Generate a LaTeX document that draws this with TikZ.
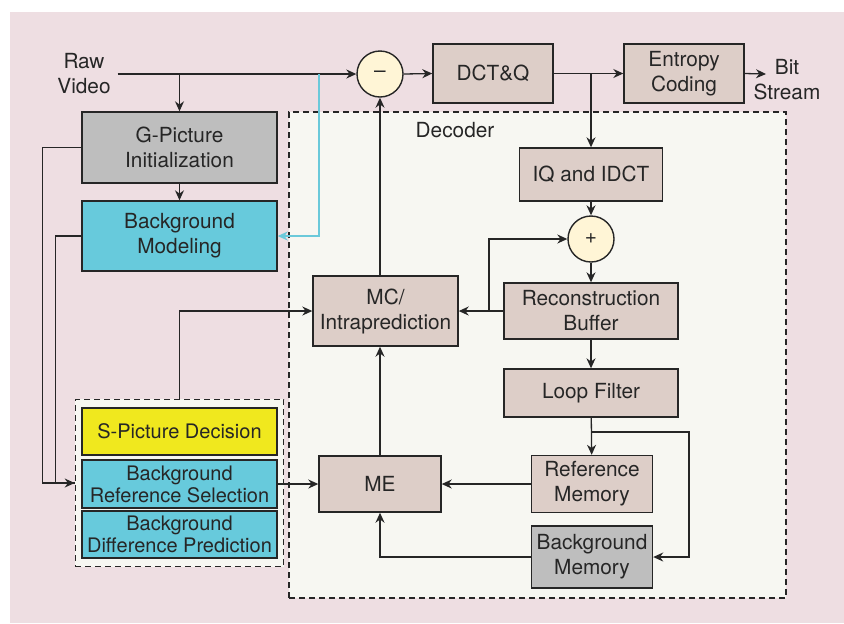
\documentclass[tikz,border=0pt]{standalone}
\usepackage{fontspec}
\setmainfont{TeX Gyre Heros}
\usetikzlibrary{arrows.meta, fit, backgrounds}

\definecolor{pinkbg}{HTML}{EEDEE2}
\definecolor{decfill}{HTML}{F7F7F2}
\definecolor{boxbrown}{HTML}{DDCEC8}
\definecolor{boxgray}{HTML}{BEBEBE}
\definecolor{boxcyan}{HTML}{67CADC}
\definecolor{boxyellow}{HTML}{F0E81E}
\definecolor{sumfill}{HTML}{FFF5D6}
\definecolor{linecol}{HTML}{262626}
\definecolor{cyanline}{HTML}{6BC9DA}

\begin{document}
\begin{tikzpicture}[x=0.5pt, y=-0.5pt,
  every node/.style={font=\fontsize{10.4}{12.5}\selectfont, align=center, text=linecol},
  box/.style={draw=linecol, line width=0.7pt, fill=boxbrown, inner sep=0pt},
  smallbox/.style={box, font=\fontsize{10}{11}\selectfont},
  sumnode/.style={circle, draw=linecol, line width=0.7pt, fill=sumfill, minimum size=23pt, inner sep=0pt},
  flow/.style={line width=0.65pt, draw=linecol, -{Stealth[length=5pt,width=4.5pt]}},
  plain/.style={line width=0.65pt, draw=linecol},
  dashbox/.style={draw=linecol, line width=0.6pt, dash pattern=on 3pt off 2pt, fill=decfill},
]

% Margins
\useasboundingbox (0,0) rectangle (844,623);

% Encoder top row
\node (raw) at (84,74) {Raw\\Video};
\node[sumnode] (minus) at (380,74) {--};
\node[box, minimum width=60pt, minimum height=29.5pt] (dctq) at (493,73.5) {DCT\&Q};
\node[box, minimum width=60pt, minimum height=29.5pt] (ent) at (684,73.5) {Entropy\\Coding};
\node (bits) at (787,80) {Bit\\Stream};
\coordinate (bitsin) at (766,74);

% Left column
\node[box, fill=boxgray, minimum width=97.5pt, minimum height=35.5pt] (gpic) at (179.5,147.5) {G-Picture\\Initialization};
\node[box, fill=boxcyan, minimum width=97.5pt, minimum height=35pt] (bgmod) at (179.5,236) {Background\\Modeling};

% S-picture group
\node[smallbox, fill=boxyellow, minimum width=97.5pt, minimum height=23.5pt] (spd) at (179.5,431.5) {S-Picture Decision};
\node[smallbox, fill=boxcyan, minimum width=97.5pt, minimum height=24pt] (brs) at (179.5,484) {Background\\Reference Selection};
\node[smallbox, fill=boxcyan, minimum width=97.5pt, minimum height=23.5pt] (bdp) at (179.5,534.5) {Background\\Difference Prediction};

% Pink sheet, decoder area and group frame behind everything
\begin{scope}[on background layer]
\fill[pinkbg] (10,12) rectangle (844,623);
\node[dashbox, minimum width=248.5pt, minimum height=243pt, inner sep=0pt] (dec) at (537.5,355) {};
\node[dashbox, inner xsep=3pt, inner ysep=4pt, fit=(spd)(brs)(bdp)] (grp) {};
\end{scope}
\node (declabel) at (455,130) {Decoder};

% Decoder blocks
\node[box, minimum width=71.5pt, minimum height=26.5pt] (iq) at (591,174.5) {IQ and IDCT};
\node[sumnode] (plus) at (591,239) {+};
\node[box, minimum width=87pt, minimum height=28pt] (recbuf) at (591,311) {Reconstruction\\Buffer};
\node[box, minimum width=87pt, minimum height=24pt] (loopf) at (591,393) {Loop Filter};
\node[box, minimum width=60.5pt, minimum height=28.5pt] (refmem) at (592,484) {Reference\\Memory};
\node[box, fill=boxgray, minimum width=60.5pt, minimum height=31pt] (bgmem) at (592,557) {Background\\Memory};
\node[box, minimum width=72.5pt, minimum height=35pt] (mc) at (385.5,311) {MC/\\Intraprediction};
\node[box, minimum width=61pt, minimum height=28pt] (me) at (380,484) {ME};

% Tap points
\coordinate (tap) at (319,74);
\coordinate (fb) at (489,311);
\coordinate (lfb) at (591,432);

% Top row connections
\draw[flow] (raw.east) -- (minus.west);
\draw[flow] (gpic.north |- minus.west) -- (gpic.north);
\draw[flow, draw=cyanline, line width=0.6pt, -{Stealth[length=5pt,width=4.5pt,fill=cyanline]}] (tap) |- (bgmod.east);
\draw[flow] (minus.east) -- (dctq.west);
\draw[flow] (dctq.east) -- (ent.west);
\draw[flow] (iq.north |- dctq.east) -- (iq.north);
\draw[flow] (ent.east) -- (bitsin);

% Left column connections
\draw[flow] (gpic) -- (bgmod);
\draw[flow] (gpic.west) -- ++(-39,0) |- (grp.west);
\draw[plain] (bgmod.west) -- ++(-26,0) |- (grp.west);
\draw[flow] (grp.north) |- (mc.west);
\draw[flow] (brs.east) -- (me.west);

% Decoder loop
\draw[flow] (iq) -- (plus);
\draw[flow] (plus) -- (recbuf);
\draw[flow] (recbuf.west) -- (mc.east);
\draw[flow] (fb) |- (plus.west);
\draw[flow] (recbuf) -- (loopf);
\draw[flow] (loopf) -- (refmem);
\draw[flow] (lfb) -- ++(98,0) |- (bgmem.east);
\draw[flow] (refmem) -- (me);
\draw[flow] (bgmem.west) -| (me.south);
\draw[flow] (me.north) -- (me.north |- mc.south);
\draw[flow] (minus.south |- mc.north) -- (minus.south);

\end{tikzpicture}
\end{document}
